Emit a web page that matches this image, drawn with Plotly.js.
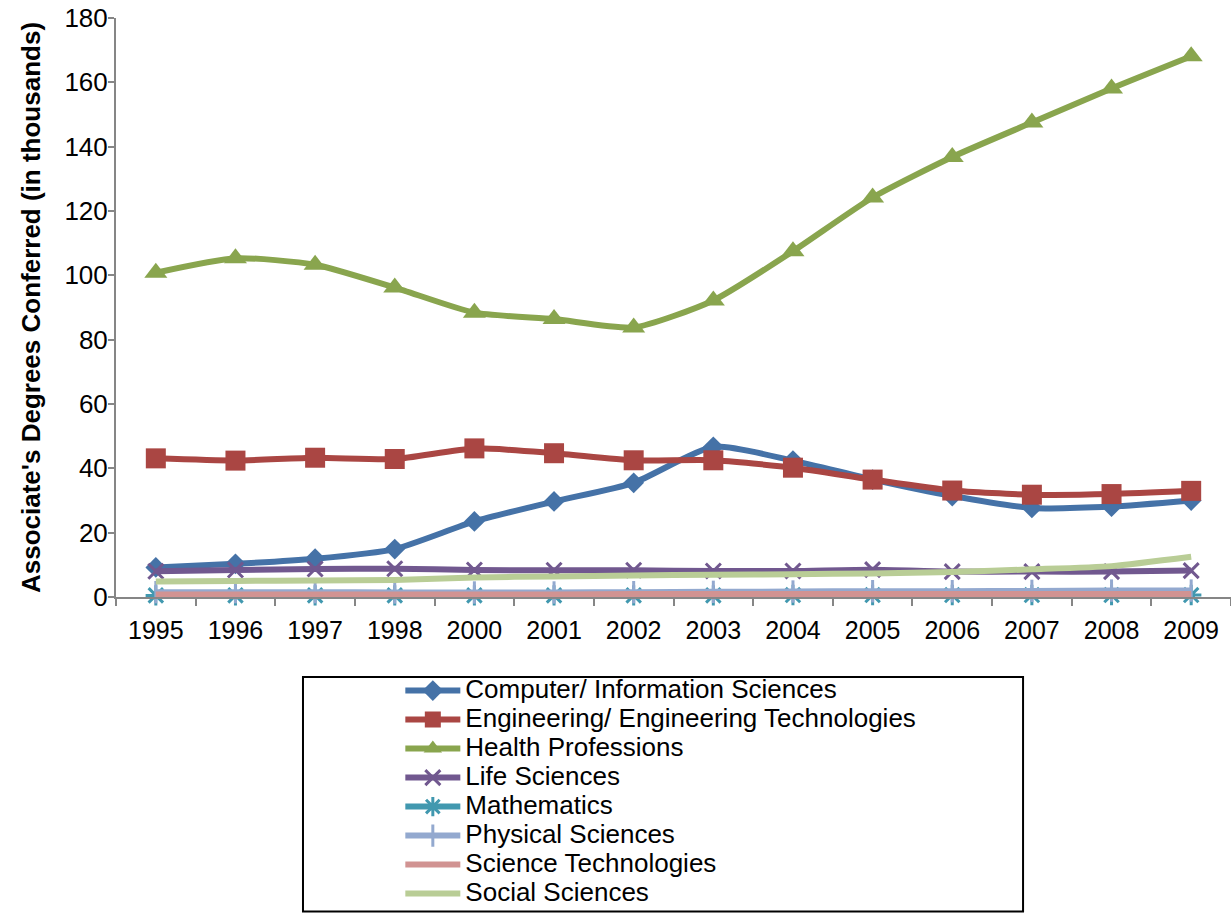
<!DOCTYPE html>
<html>
<head>
<meta charset="utf-8">
<script src="https://cdn.plot.ly/plotly-3.0.1.min.js"></script>
<style>html,body{margin:0;padding:0;background:#fff;}#chart{width:1231px;height:914px;}</style>
</head>
<body>
<div id="chart"></div>
<script>
const years = ['1995','1996','1997','1998','2000','2001','2002','2003','2004','2005','2006','2007','2008','2009'];
const computer = [9.2, 10.3, 11.9, 14.9, 23.5, 29.7, 35.5, 46.7, 42.4, 36.5, 31.4, 27.7, 28.1, 30.0];
const engineering = [43.1, 42.4, 43.3, 42.9, 46.2, 44.7, 42.5, 42.5, 40.2, 36.5, 33.1, 31.8, 32.0, 33.0];
const health = [100.8, 105.3, 103.3, 96.2, 88.4, 86.4, 83.8, 92.2, 107.5, 124.2, 136.8, 147.5, 158.1, 168.1];
const life = [8.0, 8.4, 8.7, 8.8, 8.4, 8.3, 8.3, 8.1, 8.1, 8.5, 7.9, 7.9, 7.9, 8.2];
const mathematics = [0.5, 0.5, 0.5, 0.5, 0.5, 0.5, 0.5, 0.5, 0.6, 0.6, 0.6, 0.6, 0.6, 0.6];
const physical = [1.5, 1.5, 1.5, 1.4, 1.4, 1.4, 1.5, 1.6, 1.7, 1.8, 1.8, 1.9, 2.0, 2.0];
const scitech = [0.8, 0.8, 0.8, 0.8, 0.8, 0.8, 0.9, 0.9, 0.9, 0.9, 0.9, 0.9, 0.9, 0.9];
const social = [4.8, 5.0, 5.1, 5.3, 6.1, 6.4, 6.7, 6.9, 7.1, 7.3, 7.8, 8.6, 9.6, 12.5];

const seriesNames = ['Computer/ Information Sciences','Engineering/ Engineering Technologies','Health Professions','Life Sciences','Mathematics','Physical Sciences','Science Technologies','Social Sciences'];
const seriesData = [computer, engineering, health, life, mathematics, physical, scitech, social];
const colors = ['#4572A7','#AA4643','#89A54E','#71588F','#4198AF','#93A9CF','#D19392','#B9CD96'];
const markers = [
  {symbol:'diamond', size:16},
  {symbol:'square', size:20},
  {symbol:'triangle-up', size:20},
  {symbol:'x-thin-open', size:15, line:{width:3}},
  {symbol:'asterisk-open', size:17, line:{width:3}},
  {symbol:'line-ns-open', size:16, line:{width:3}},
  null,
  null
];

const traces = seriesNames.map((name, i) => {
  const t = {
    x: years, y: seriesData[i],
    name: '<span style="font-size:26px">' + name + '</span>',
    type: 'scatter',
    mode: markers[i] ? 'lines+markers' : 'lines',
    cliponaxis: false,
    line: {color: colors[i], width: 6, shape: 'spline', smoothing: 0.6}
  };
  if (markers[i]) {
    const m = Object.assign({color: colors[i]}, markers[i]);
    if (m.line) m.line = Object.assign({color: colors[i]}, m.line);
    t.marker = m;
  }
  return t;
});

const layout = {
  width: 1231, height: 914,
  margin: {l: 116, r: 0, t: 18, b: 317, pad: 0},
  paper_bgcolor: '#ffffff', plot_bgcolor: '#ffffff',
  font: {family: 'Liberation Sans, Arial, sans-serif', color: '#000', size: 20},
  showlegend: true,
  legend: {
    x: 0.255, y: -0.128, xanchor: 'left', yanchor: 'top',
    bgcolor: 'rgba(0,0,0,0)', borderwidth: 0,
    font: {size: 20, color: '#000'},
    tracegroupgap: 0, itemwidth: 55
  },
  xaxis: {
    type: 'category', range: [-0.5, 13.5],
    showline: true, linecolor: '#868686', linewidth: 2,
    ticks: 'outside', tickson: 'boundaries', ticklen: 7, tickcolor: '#868686', tickwidth: 2,
    showgrid: false, zeroline: false, tickangle: 0, ticklabelstandoff: 10,
    tickfont: {size: 25, color: '#000'}
  },
  yaxis: {
    range: [0, 180], dtick: 20, tick0: 0,
    showline: true, linecolor: '#868686', linewidth: 2,
    ticks: 'outside', ticklen: 6, tickcolor: '#868686', tickwidth: 2,
    showgrid: false, zeroline: false, ticklabelstandoff: -5,
    tickfont: {size: 26, color: '#000'},
    title: {text: "Associate's Degrees Conferred (in thousands)", font: {size: 26, color: '#000', weight: 'bold'}, standoff: 16}
  },
  shapes: [{
    type: 'rect', xref: 'paper', yref: 'paper',
    x0: 0.1677, x1: 0.8135, y0: -0.138, y1: -0.543,
    line: {color: '#000', width: 2}, fillcolor: 'rgba(0,0,0,0)'
  }]
};

Plotly.newPlot('chart', traces, layout, {displayModeBar: false, staticPlot: true});
</script>
</body>
</html>
